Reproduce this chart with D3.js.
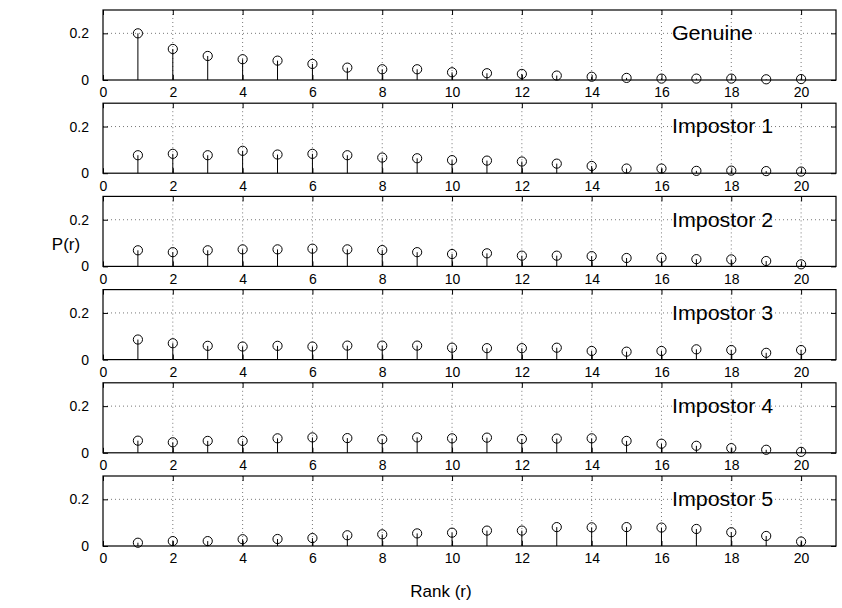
<!DOCTYPE html>
<html><head><meta charset="utf-8">
<script src="https://cdn.jsdelivr.net/npm/d3@7"></script>
<style>body{margin:0;background:#fff}svg{display:block}text{font-family:"Liberation Sans",Arial,Helvetica,sans-serif;fill:#000}</style>
</head><body><svg id="c" width="842" height="608"></svg>
<script>
const ranks = d3.range(1, 21);
const panelTitles = ["Genuine","Impostor 1","Impostor 2","Impostor 3","Impostor 4","Impostor 5"];
const genuine   = [0.200,0.133,0.103,0.089,0.083,0.069,0.053,0.046,0.046,0.033,0.029,0.026,0.019,0.014,0.009,0.006,0.006,0.006,0.003,0.004];
const impostor1 = [0.077,0.083,0.077,0.096,0.080,0.083,0.077,0.067,0.064,0.056,0.054,0.050,0.041,0.031,0.020,0.020,0.010,0.011,0.009,0.007];
const impostor2 = [0.069,0.061,0.069,0.073,0.073,0.076,0.073,0.070,0.061,0.053,0.056,0.046,0.046,0.044,0.036,0.037,0.031,0.030,0.023,0.009];
const impostor3 = [0.086,0.070,0.059,0.056,0.059,0.056,0.060,0.060,0.060,0.051,0.049,0.049,0.051,0.037,0.034,0.037,0.044,0.041,0.029,0.041];
const impostor4 = [0.052,0.045,0.051,0.051,0.062,0.066,0.063,0.058,0.066,0.062,0.065,0.059,0.061,0.062,0.051,0.039,0.030,0.020,0.013,0.004];
const impostor5 = [0.014,0.021,0.021,0.029,0.030,0.034,0.046,0.050,0.054,0.057,0.066,0.066,0.081,0.080,0.081,0.079,0.073,0.059,0.043,0.019];
const series = [genuine, impostor1, impostor2, impostor3, impostor4, impostor5];
const xTicks = d3.range(0, 21, 2);
const yTicks = [0, 0.2];
const yGrid = [0.2];
const xLabel = "Rank (r)";
const yLabel = "P(r)";

const svg = d3.select("#c");
const left = 103, right = 836, panelH = 70, panelStep = 93.2, top0 = 10;
const x = d3.scaleLinear().domain([0, 21]).range([left, right]);

series.forEach((vals, i) => {
  const top = top0 + i * panelStep;
  const y = d3.scaleLinear().domain([0, 0.3]).range([top + panelH, top]);
  const g = svg.append("g");
  g.selectAll(".vg").data(xTicks.filter(t => t > 0)).join("line")
    .attr("x1", d => x(d)).attr("x2", d => x(d)).attr("y1", top).attr("y2", top + panelH)
    .attr("stroke", "#555").attr("stroke-width", 0.8).attr("stroke-dasharray", "1,3");
  g.selectAll(".hg").data(yGrid).join("line")
    .attr("x1", left).attr("x2", right).attr("y1", d => y(d)).attr("y2", d => y(d))
    .attr("stroke", "#555").attr("stroke-width", 0.8).attr("stroke-dasharray", "1,3");
  g.append("text").attr("x", 0).attr("y", 0)
    .attr("transform", `translate(${x(16.3)},${y(0.2) + 6.8}) scale(1.1,1)`)
    .attr("font-size", 19.5).text(panelTitles[i]);
  g.selectAll(".stem").data(vals).join("line")
    .attr("x1", (d, j) => x(ranks[j])).attr("x2", (d, j) => x(ranks[j]))
    .attr("y1", y(0)).attr("y2", d => y(d)).attr("stroke", "#000").attr("stroke-width", 1);
  g.selectAll(".mk").data(vals).join("circle")
    .attr("cx", (d, j) => x(ranks[j])).attr("cy", d => y(d)).attr("r", 4.6)
    .attr("fill", "none").attr("stroke", "#000").attr("stroke-width", 1);
  const xb = d3.axisBottom(x).tickValues(xTicks).tickSize(-5).tickPadding(7.5).tickFormat(d3.format("d"));
  const gx = g.append("g").attr("transform", `translate(0,${top + panelH})`).call(xb);
  gx.select(".domain").remove();
  gx.selectAll("text").attr("font-size", 14).attr("font-family", '"Liberation Sans",Arial,sans-serif');
  const xt = d3.axisTop(x).tickValues(xTicks).tickSize(-5).tickFormat("");
  const gxt = g.append("g").attr("transform", `translate(0,${top})`).call(xt);
  gxt.select(".domain").remove();
  const yl = d3.axisLeft(y).tickValues(yTicks).tickSize(-5).tickPadding(14).tickFormat(d => d === 0 ? "0" : d3.format(".1f")(d));
  const gy = g.append("g").attr("transform", `translate(${left},0)`).call(yl);
  gy.select(".domain").remove();
  gy.selectAll("text").attr("font-size", 14).attr("font-family", '"Liberation Sans",Arial,sans-serif');
  const yr = d3.axisRight(y).tickValues(yTicks).tickSize(-5).tickFormat("");
  const gyr = g.append("g").attr("transform", `translate(${right},0)`).call(yr);
  gyr.select(".domain").remove();
  g.append("rect").attr("x", left).attr("y", top).attr("width", right - left).attr("height", panelH)
    .attr("fill", "none").attr("stroke", "#000").attr("stroke-width", 1.2);
});

svg.append("text").attr("x", 441).attr("y", 597).attr("text-anchor", "middle").attr("font-size", 17).text(xLabel);
svg.append("text").attr("x", 66).attr("y", 250).attr("text-anchor", "middle").attr("font-size", 17).text(yLabel);
</script></body></html>
